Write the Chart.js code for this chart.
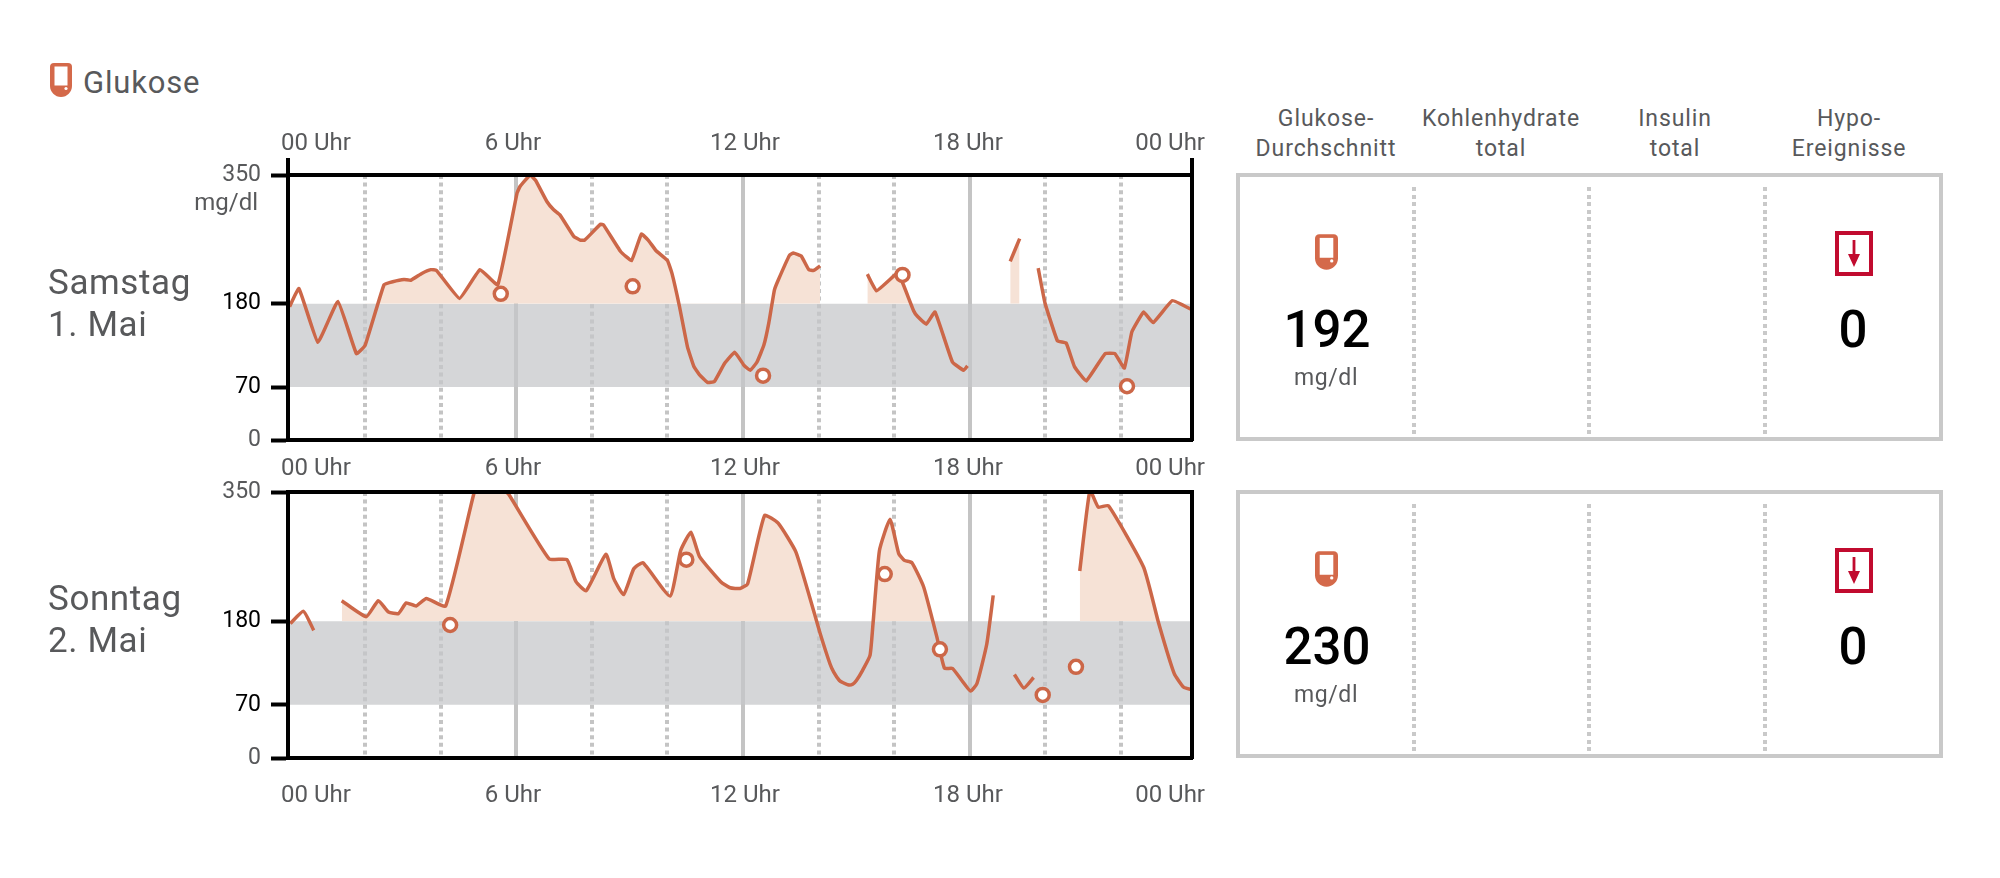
<!DOCTYPE html>
<html lang="de">
<head>
<meta charset="utf-8">
<title>Glukose</title>
<script src="https://cdn.jsdelivr.net/npm/chart.js@4/dist/chart.umd.js"></script>
<style>
  html, body { margin: 0; padding: 0; background: #fff; }
  body { position: relative; width: 2000px; height: 878px; overflow: hidden; font-family: Roboto, sans-serif; font-weight: 400; color: #58595b; }
  canvas { position: absolute; left: 0; }
  .txt { position: absolute; white-space: nowrap; line-height: 1; }
  .c { transform: translate(-50%, -50%); text-align: center; }
  .day { left: 48px; font-size: 35px; line-height: 42px; letter-spacing: 0.6px; }
  .head { font-size: 23px; line-height: 30px; letter-spacing: 0.9px; }
  .num { font-size: 51px; font-weight: 500; color: #000; }
  .unit { font-size: 23px; letter-spacing: 0.6px; }
  .box { position: absolute; left: 1236px; width: 699px; height: 260px; border: 4px solid #c9c9c9; }
  .sep { position: absolute; top: 10px; bottom: 0; width: 4px; background: repeating-linear-gradient(#c9c9c9 0 4px, transparent 4px 7.6px); }
  svg { position: absolute; }
</style>
</head>
<body>
<canvas id="satChart" width="1250" height="345" style="top:120px"></canvas>
<canvas id="sunChart" width="1250" height="360" style="top:450px"></canvas>

<script>
// hours on the axis, null breaks the line
const satHours = [0, 0.25, 0.75, 1.28, 1.77, 2.0, 2.5, 2.73, 3.03, 3.21, 3.5, 3.74, 3.89, 4.5, 5.04, 5.51, 6.02, 6.1, 6.37, 6.51, 6.81, 6.99, 7.16, 7.52, 7.69, 7.81, 8.23, 8.31, 8.76, 9.05, 9.31, 9.49, 9.7, 10.0, 10.12, 10.32, 10.53, 10.7, 10.85, 11.06, 11.24, 11.51, 11.78, 12.02, 12.19, 12.37, 12.55, 12.68, 12.83, 12.93, 13.23, 13.33, 13.54, 13.74, 13.87, 14.04, 14.5, 15.29, 15.53, 16.02, 16.12, 16.52, 16.62, 16.85, 17.08, 17.54, 17.84, 17.94, 18.5, 19.07, 19.32, 19.5, 19.81, 19.99, 20.32, 20.55, 20.77, 21.08, 21.58, 21.84, 22.09, 22.29, 22.6, 22.85, 23.36, 23.88];
const satGlucose = [176, 200, 129, 183, 114, 125, 205, 209, 212, 211, 220, 225, 224, 187, 225, 205, 326, 335, 350, 343, 315, 304, 297, 269, 264, 264, 285, 284, 249, 237, 272, 264, 250, 237, 220, 176, 123, 97, 86, 76, 77, 101, 116, 99, 92, 103, 125, 154, 198, 211, 244, 247, 243, 225, 224, 230, null, 219, 197, 218, 220, 170, 163, 153, 169, 103, 92, 98, null, 236, 266, null, 227, 181, 131, 128, 97, 78, 114, 114, 95, 143, 169, 155, 184, 172];
const satFillRanges = [[2.0, 14.04], [15.29, 16.62], [19.07, 19.32]];
const satMeterHours = [5.59, 9.08, 12.53, 16.22, 22.16];
const satMeterValues = [193, 203, 85, 218, 71];

const sunHours = [0.02, 0.37, 0.64, 1.0, 1.38, 2.03, 2.35, 2.62, 2.88, 3.09, 3.35, 3.62, 4.13, 4.9, 5.0, 5.7, 5.8, 6.87, 7.34, 7.58, 7.85, 8.37, 8.58, 8.84, 9.11, 9.35, 10.07, 10.35, 10.62, 10.85, 11.41, 11.66, 11.92, 12.12, 12.57, 12.93, 13.4, 13.89, 14.04, 14.3, 14.4, 14.55, 14.65, 14.8, 14.9, 15.0, 15.16, 15.36, 15.44, 15.61, 15.89, 16.12, 16.27, 16.47, 16.78, 17.13, 17.33, 17.54, 17.79, 18.02, 18.19, 18.45, 18.62, 18.9, 19.18, 19.43, 19.69, 20.3, 20.91, 21.18, 21.4, 21.67, 22.6, 23.0, 23.41, 23.66, 23.88];
const sunGlucose = [177, 193, 168, null, 207, 186, 207, 192, 190, 204, 200, 210, 200, 352, 351, 351, 347, 262, 261, 232, 220, 268, 236, 215, 249, 257, 213, 273, 297, 265, 232, 224, 223, 229, 319, 309, 271, 190, 164, 124, 113, 102, 99, 96, 97, 102, 115, 135, 177, 273, 314, 269, 260, 257, 225, 159, 118, 118, 102, 88, 98, 150, 214, null, 110, 92, 106, null, 246, 352, 330, 332, 251, 177, 111, 93, 90];
const sunFillRanges = [[1.38, 14.04], [15.36, 17.33], [20.91, 23.2]];
const sunMeterHours = [4.25, 10.5, 15.75, 17.21, 19.93, 20.81];
const sunMeterValues = [175, 261, 242, 143, 83, 120];

const gridHours = [0, 2, 4, 6, 8, 10, 12, 14, 16, 18, 20, 22];
const solidHours = [6, 12, 18];
const yTicks = [0, 70, 180, 350];
const hourLabels = ['00 Uhr', '6 Uhr', '12 Uhr', '18 Uhr', '00 Uhr'];
const hourLabelPos = [0.7, 5.91, 12.05, 17.95, 23.3];
const targetHigh = 180;
const targetLow = 70;
const xMin = -0.04;
const xMax = 23.88;

const days = ['Samstag\n1. Mai', 'Sonntag\n2. Mai'];
const columns = ['Glukose-\nDurchschnitt', 'Kohlenhydrate\ntotal', 'Insulin\ntotal', 'Hypo-\nEreignisse'];
const averages = [192, 230];
const hypoCounts = [0, 0];

const ORANGE = '#cc6748';
const PEACH = '#f6e2d6';
const BAND = 'rgba(197,198,201,0.72)';
const GREY_TEXT = '#58595b';
const FONT = 'Roboto';

function toPoints(hours, values) {
  return hours.map((h, i) => ({ x: h, y: values[i] }));
}

function labelAxis(position, padding, height) {
  return {
    position: position, type: 'linear', min: xMin, max: xMax,
    grid: { display: false, drawTicks: false },
    border: { display: true, color: '#000', width: 4, z: 1 },
    afterBuildTicks: s => { s.ticks = hourLabelPos.map(v => ({ value: v })); },
    afterFit: s => { s.height = height; },
    ticks: {
      display: padding !== null,
      color: GREY_TEXT, padding: padding || 0, maxRotation: 0, autoSkip: false,
      font: { family: FONT, size: 24, weight: '400' },
      callback: (v, i) => hourLabels[i]
    }
  };
}

// little stubs where the axes stick out above the top chart
const axisStubs = {
  id: 'axisStubs',
  afterDraw(chart, args, opts) {
    if (!opts.length) return;
    const a = chart.chartArea, ctx = chart.ctx;
    ctx.save();
    ctx.strokeStyle = '#000';
    ctx.lineWidth = 4;
    [a.left, a.right].forEach(x => {
      ctx.beginPath();
      ctx.moveTo(x, a.top);
      ctx.lineTo(x, a.top - opts.length);
      ctx.stroke();
    });
    ctx.restore();
  }
};

function dayChart(id, hours, glucose, fillRanges, meterHours, meterValues, tension, top, bottom, stub) {
  const points = toPoints(hours, glucose);
  const fillPoints = points.map(p => {
    const inside = fillRanges.some(r => p.x >= r[0] && p.x <= r[1]);
    return { x: p.x, y: inside ? p.y : null };
  });
  const scales = {
    x: {
      type: 'linear', position: 'bottom', min: xMin, max: xMax,
      afterBuildTicks: s => { s.ticks = gridHours.map(v => ({ value: v })); },
      afterFit: s => { s.height = 0; },
      ticks: { display: false, autoSkip: false },
      border: {
        display: false,
        dash: c => (c.tick && solidHours.includes(c.tick.value)) ? [] : [4, 3.6]
      },
      grid: {
        drawTicks: false,
        color: c => (c.tick && c.tick.value === 0) ? 'rgba(0,0,0,0)' : '#c4c4c4',
        lineWidth: 4
      }
    },
    xTop: labelAxis('top', top.padding, top.height),
    xBottom: labelAxis('bottom', bottom.padding, bottom.height),
    y: {
      position: 'left', min: 0, max: 350,
      afterBuildTicks: s => { s.ticks = yTicks.map(v => ({ value: v })); },
      afterFit: s => { s.width = 288; },
      border: { color: '#000', width: 4, z: 1 },
      grid: { drawOnChartArea: false, tickLength: 17, tickWidth: 4, tickColor: '#000' },
      ticks: {
        padding: 10, autoSkip: false,
        font: { family: FONT, size: 23, weight: '400' },
        color: c => (c.tick.value === targetHigh || c.tick.value === targetLow) ? '#000' : GREY_TEXT
      }
    },
    yRight: {
      position: 'right', min: 0, max: 350,
      afterFit: s => { s.width = 0; },
      ticks: { display: false },
      grid: { display: false, drawTicks: false },
      border: { color: '#000', width: 4, z: 1 }
    }
  };
  return new Chart(document.getElementById(id), {
    type: 'line',
    data: {
      datasets: [
        {
          label: 'Messwerte', data: toPoints(meterHours, meterValues), showLine: false, order: 0,
          pointStyle: 'circle', pointRadius: 6.5, pointBorderWidth: 3.5,
          pointBackgroundColor: '#fff', pointBorderColor: ORANGE
        },
        {
          label: 'Glukose', data: points, order: 1, borderColor: ORANGE, borderWidth: 3.5,
          pointRadius: 0, tension: tension, spanGaps: false, fill: false, borderJoinStyle: 'round'
        },
        {
          label: 'Über Zielbereich', data: fillPoints, order: 2, borderWidth: 0, pointRadius: 0,
          tension: tension, spanGaps: false,
          fill: { target: { value: targetHigh }, above: PEACH, below: 'rgba(0,0,0,0)' }
        },
        {
          label: 'Zielbereich', data: [{ x: xMin, y: targetHigh }, { x: xMax, y: targetHigh }], order: 3,
          borderWidth: 0, pointRadius: 0,
          fill: { target: { value: targetLow }, above: BAND, below: BAND }
        }
      ]
    },
    options: {
      responsive: false, animation: false, devicePixelRatio: 1,
      layout: { padding: { left: 0, right: 58, top: 0, bottom: 0 } },
      scales: scales,
      plugins: { legend: { display: false }, tooltip: { enabled: false }, axisStubs: { length: stub } }
    },
    plugins: [axisStubs]
  });
}

dayChart('satChart', satHours, satGlucose, satFillRanges, satMeterHours, satMeterValues, 0.1,
  { padding: 17, height: 55 }, { padding: null, height: 25 }, 17);
dayChart('sunChart', sunHours, sunGlucose, sunFillRanges, sunMeterHours, sunMeterValues, 0.15,
  { padding: 9, height: 42 }, { padding: 24, height: 52 }, 0);

// the rest of the page is plain text and small icons
function addText(cls, x, y, text) {
  const el = document.createElement('div');
  el.className = 'txt ' + cls;
  if (x !== null) el.style.left = x + 'px';
  el.style.top = y + 'px';
  el.innerHTML = text.replace('\n', '<br>');
  document.body.appendChild(el);
  return el;
}

function meterIcon(x, y, w, h) {
  const svg = `<svg style="left:${x}px;top:${y}px" width="${w}" height="${h}" viewBox="0 0 22 34">
    <path d="M4 0h14a4 4 0 0 1 4 4v19c0 6-5 11-11 11S0 29 0 23V4a4 4 0 0 1 4-4z" fill="#d4694a"/>
    <rect x="4.5" y="3.5" width="13" height="19" fill="#fff"/>
    <circle cx="16" cy="25.5" r="1.6" fill="#fff"/></svg>`;
  document.body.insertAdjacentHTML('beforeend', svg);
}

function hypoIcon(x, y) {
  const svg = `<svg style="left:${x}px;top:${y}px" width="38" height="45" viewBox="0 0 38 45">
    <rect x="2" y="2" width="34" height="41" fill="#fff" stroke="#c10b2f" stroke-width="4"/>
    <path d="M17.6 9h2.8v14h4.6L19 36 13 23h4.6z" fill="#c10b2f"/></svg>`;
  document.body.insertAdjacentHTML('beforeend', svg);
}

meterIcon(50, 63, 22, 34);
addText('', 83, 67, 'Glukose').style.cssText += 'font-size:31px;letter-spacing:0.8px;';
addText('', null, 0, 'mg/dl').style.cssText += 'right:1742px;top:190px;font-size:24px;';

addText('day', null, 262, days[0]);
addText('day', null, 578, days[1]);

const columnCenters = [1326, 1501, 1675, 1849];
columns.forEach((c, i) => addText('head c', columnCenters[i], 134, c));

[173, 490].forEach((top, i) => {
  document.body.insertAdjacentHTML('beforeend',
    `<div class="box" style="top:${top}px">
      <div class="sep" style="left:172px"></div>
      <div class="sep" style="left:347px"></div>
      <div class="sep" style="left:523px"></div>
    </div>`);
  const off = top - 173;
  meterIcon(1315, 234 + off, 23, 36);
  hypoIcon(1835, 231 + off);
  addText('num c', 1327, 329 + off, String(averages[i]));
  addText('unit c', 1326, 377 + off, 'mg/dl');
  addText('num c', 1853, 329 + off, String(hypoCounts[i]));
});
</script>
</body>
</html>
